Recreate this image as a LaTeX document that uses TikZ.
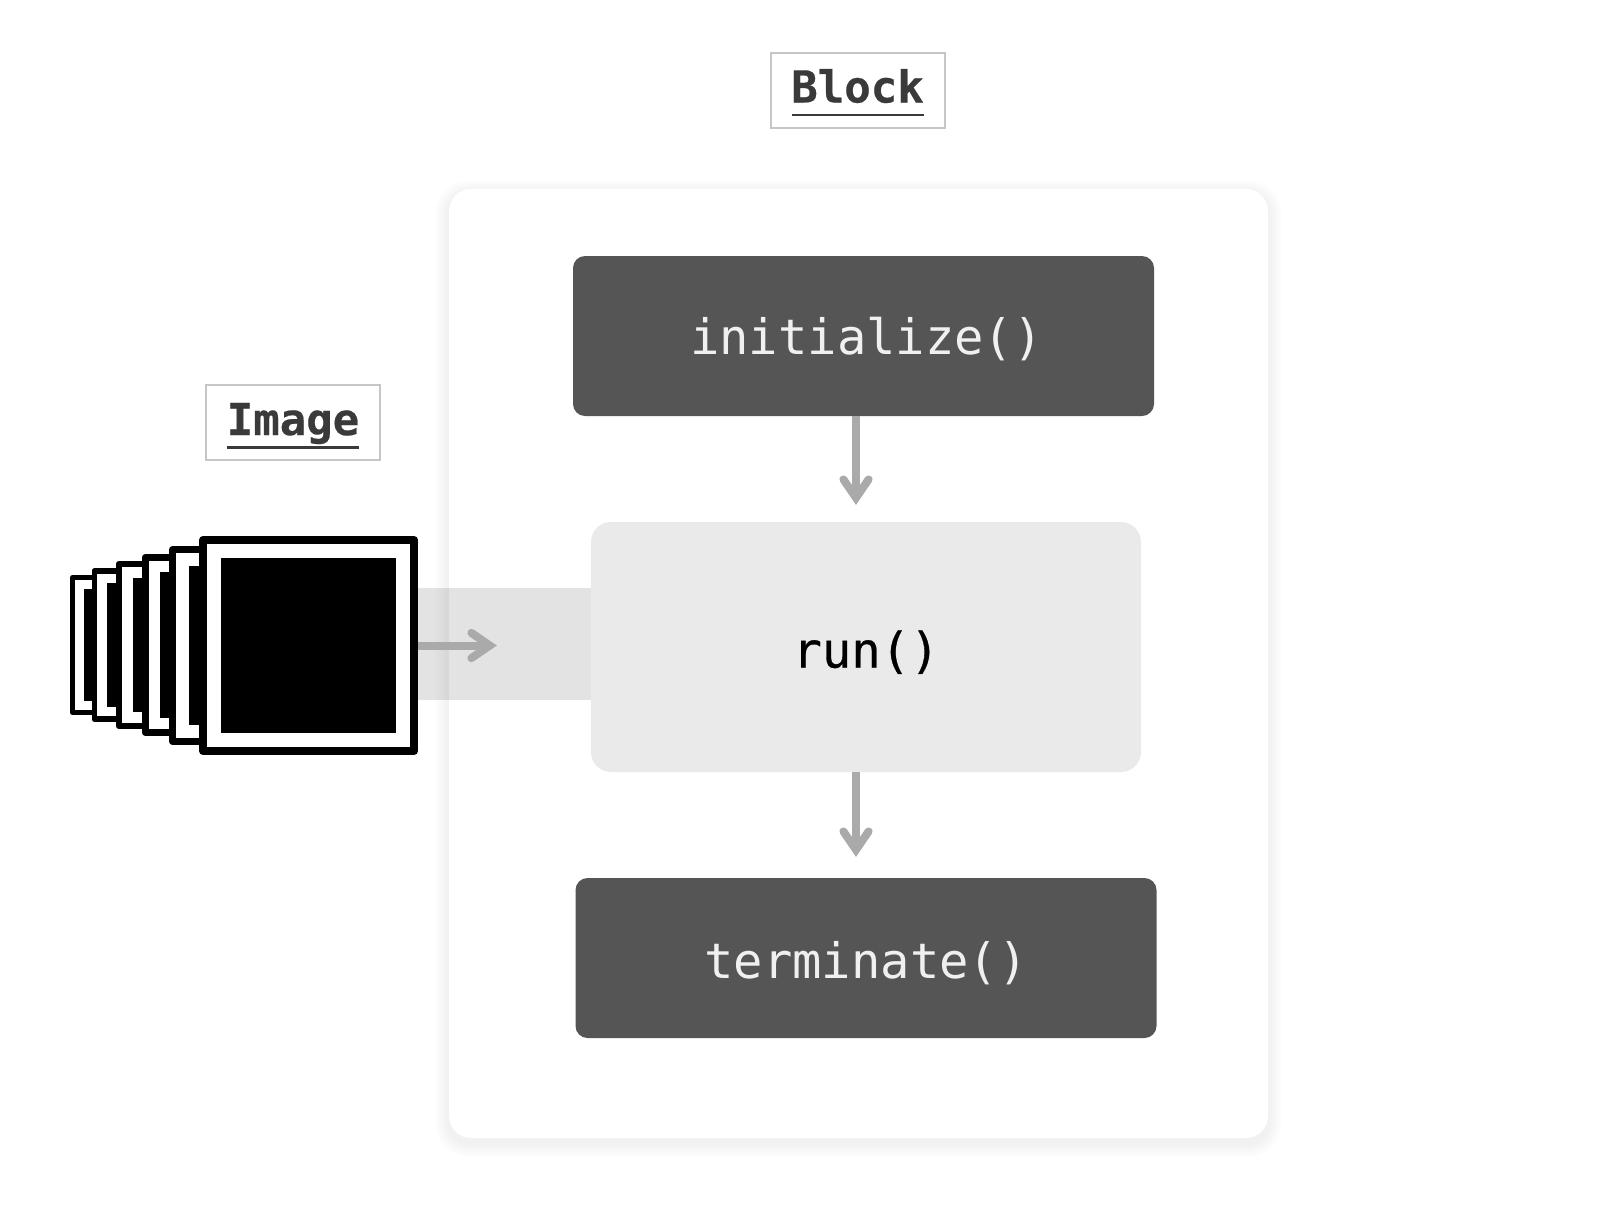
\documentclass[tikz,border=0pt]{standalone}
\usepackage{fontspec}
\setmonofont{DejaVu Sans Mono}
\newfontfamily\runfont[FakeBold=0.6]{DejaVu Sans Mono}
\newfontfamily\titlefont[FakeBold=0.5]{DejaVu Sans Mono Bold}
\usetikzlibrary{arrows.meta,calc}
\definecolor{darkbox}{HTML}{555555}
\definecolor{lightbox}{HTML}{EAEAEA}
\definecolor{flowgray}{HTML}{AAAAAA}
\definecolor{labelborder}{HTML}{C6C6C6}
\definecolor{labeltext}{HTML}{3A3A3A}
\definecolor{darktext}{HTML}{F0F0F0}
\pgfdeclarearrow{
  name=Chevron,
  setup code={
    \pgfarrowssettipend{0pt}
    \pgfarrowssetbackend{-14.4pt}
    \pgfarrowssetlineend{-4pt}
    \pgfarrowssetvisualbackend{-4pt}
    \pgfarrowsupperhullpoint{-14.4pt}{8pt}
    \pgfarrowsupperhullpoint{0pt}{0pt}
  },
  drawing code={
    \pgfsetroundcap
    \pgfsetmiterjoin
    \pgfsetdash{}{0pt}
    \pgfpathmoveto{\pgfqpoint{-12.8pt}{6.3pt}}
    \pgfpathlineto{\pgfqpoint{-3.6pt}{0pt}}
    \pgfpathlineto{\pgfqpoint{-12.8pt}{-6.3pt}}
    \pgfusepathqstroke
  }
}
\tikzset{
  x=0.5pt,y=-0.5pt,
  every node/.style={inner sep=0pt,outer sep=0pt},
  method/.style={rounded corners=6pt,font=\ttfamily\fontsize{24.4}{24.4}\selectfont,text depth=0pt,align=center},
  darkmethod/.style={method,fill=darkbox,text=darktext,minimum width=290.5pt,minimum height=80pt},
  titlebox/.style={draw=labelborder,line width=1pt,fill=white,minimum width=87pt,minimum height=37.5pt,
    font=\titlefont\fontsize{22}{22}\selectfont,text=labeltext,text height=12.5pt,text depth=0pt},
  titleline/.style={draw=labeltext,line width=1.2pt},
  flow/.style={draw=flowgray,line width=4pt,-Chevron},
  frameouter/.style={draw=black,fill=white,line join=round},
  frameinner/.style={fill=black},
}
\newcommand{\imgframe}[6]{% name, cx, cy, size(pt), stroke(pt), inner(pt)
  \node[frameouter,line width=#5,minimum size=#4] (#1) at (#2,#3) {};
  \node[frameinner,minimum size=#6] (#1i) at (#2,#3) {};
}
\begin{document}
\begin{tikzpicture}
\useasboundingbox (0,0) rectangle (1608,1216);
% card shadow
\foreach \g in {14,12,...,2}{
  \fill[black,opacity=0.006,rounded corners=10pt+\g*0.5pt] (449-\g,189-\g+5) rectangle (1268+\g,1138+\g+5);
}
\node[fill=white,rounded corners=11pt,minimum width=409.5pt,minimum height=474.5pt] (card) at (858.5,663.5) {};
% band
\node[fill=black,opacity=0.11,minimum width=90pt,minimum height=56pt] (band) at (502,643.5) {};
% methods
\node[darkmethod,text height=18.5pt] (initialize) at (863.5,336) {\hspace*{3pt}initialize()};
\node[method,fill=lightbox,rounded corners=10pt,minimum width=275pt,minimum height=125pt,text=black,text height=20.5pt,font=\runfont\fontsize{24.4}{24.4}\selectfont] (run) at (866,647) {run()};
\node[darkmethod,text height=20.5pt] (terminate) at (866,958) {terminate()};
% connectors
\coordinate (headA) at (856,505);
\coordinate (headB) at (856,857);
\coordinate (headC) at (497,645.5);
\draw[flow] (initialize.south -| headA) -- (headA);
\draw[flow] (run.south -| headB) -- (headB);
% image stack
\imgframe{frameA}{140}{645}{67.5pt}{2.5pt}{56pt}
\imgframe{frameB}{168.5}{645}{74.15pt}{2.85pt}{62pt}
\imgframe{frameC}{200}{645}{81.15pt}{2.85pt}{67pt}
\imgframe{frameD}{232.5}{645}{87.5pt}{3.5pt}{73pt}
\imgframe{frameE}{268.5}{645.5}{95.85pt}{3.65pt}{79.5pt}
\draw[flow] (308.5,645.5) -- (headC);
\imgframe{image}{308.5}{645.5}{105.5pt}{4pt}{87.5pt}
% labels
\node[titlebox] (block) at (857.5,90) {Block};
\draw[titleline] ($(block.center)+(-66,25)$) -- ($(block.center)+(66,25)$);
\node[titlebox] (imagelabel) at (293,422.5) {Image};
\draw[titleline] ($(imagelabel.center)+(-66,25)$) -- ($(imagelabel.center)+(66,25)$);
\end{tikzpicture}
\end{document}
